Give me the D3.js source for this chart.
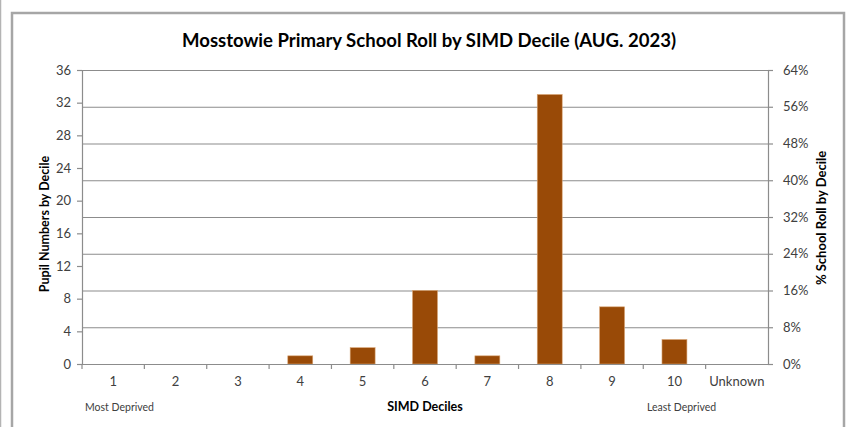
<!DOCTYPE html>
<html>
<head>
<meta charset="utf-8">
<script src="https://cdn.jsdelivr.net/npm/d3@7"></script>
<style>
  html, body { margin: 0; padding: 0; background: #ffffff; }
  svg { display: block; }
  text { font-family: Lato, "Open Sans", "Noto Sans", sans-serif; }
</style>
</head>
<body>
<svg id="chart" width="852" height="427"></svg>
<script>
// ---- data ----
const categories = ["1", "2", "3", "4", "5", "6", "7", "8", "9", "10", "Unknown"];
const pupils = [0, 0, 0, 1, 2, 9, 1, 33, 7, 3, 0];
const leftTicks = [0, 4, 8, 12, 16, 20, 24, 28, 32, 36];
const rightTicks = [0, 0.08, 0.16, 0.24, 0.32, 0.40, 0.48, 0.56, 0.64];
const titleText = "Mosstowie Primary School Roll by SIMD Decile (AUG. 2023)";
const leftTitle = "Pupil Numbers by Decile";
const rightTitle = "% School Roll by Decile";
const xTitle = "SIMD Deciles";
const lowNote = "Most Deprived";
const highNote = "Least Deprived";

// ---- layout ----
const svg = d3.select("#chart");
const plot = { left: 82, right: 768, top: 70, bottom: 364 };
const gridColor = "#8c8c8c";
const textColor = "#404040";

// outer frames
svg.append("line").attr("x1", 0.5).attr("x2", 0.5).attr("y1", 0).attr("y2", 427)
  .attr("stroke", "#b4b4b4").attr("stroke-width", 1.5);
svg.append("rect").attr("x", 12).attr("y", 13).attr("width", 832).attr("height", 430)
  .attr("fill", "none").attr("stroke", "#a6a6a6").attr("stroke-width", 2.5);

const x = d3.scaleBand().domain(categories).range([plot.left, plot.right]).padding(0);
const yL = d3.scaleLinear().domain([0, 36]).range([plot.bottom, plot.top]);
const yR = d3.scaleLinear().domain([0, 0.64]).range([plot.bottom, plot.top]);

// gridlines (follow right axis)
const grid = svg.append("g").attr("transform", `translate(${plot.left},0)`)
  .call(d3.axisRight(yR).tickValues(rightTicks).tickSize(plot.right - plot.left).tickFormat(""));
grid.select(".domain").remove();
grid.selectAll("line").attr("stroke", gridColor).attr("stroke-width", 1.2);

// bars
const bw = x.bandwidth() * 0.4;
svg.append("g").selectAll("rect").data(categories).join("rect")
  .attr("x", (d) => x(d) + x.bandwidth() / 2 - bw / 2)
  .attr("y", (d, i) => yL(pupils[i]))
  .attr("width", bw)
  .attr("height", (d, i) => yL(0) - yL(pupils[i]))
  .attr("fill", "#994a07")
  .attr("stroke", "#d9a574").attr("stroke-width", 0.6);

// left axis
const gL = svg.append("g").attr("transform", `translate(${plot.left},0)`)
  .call(d3.axisLeft(yL).tickValues(leftTicks).tickSize(5).tickPadding(6));
// right axis
const gR = svg.append("g").attr("transform", `translate(${plot.right},0)`)
  .call(d3.axisRight(yR).tickValues(rightTicks).tickSize(5).tickPadding(10)
    .tickFormat(d3.format(".0%")));
// x axis
const gX = svg.append("g").attr("transform", `translate(0,${plot.bottom})`)
  .call(d3.axisBottom(x).tickSize(0).tickPadding(13));
// boundary ticks for x axis
svg.append("g").selectAll("line").data(categories.slice(1)).join("line")
  .attr("x1", (d) => x(d)).attr("x2", (d) => x(d))
  .attr("y1", plot.bottom).attr("y2", plot.bottom + 5)
  .attr("stroke", gridColor).attr("stroke-width", 1.2);
svg.append("line").attr("x1", plot.left).attr("x2", plot.left)
  .attr("y1", plot.bottom).attr("y2", plot.bottom + 5)
  .attr("stroke", gridColor).attr("stroke-width", 1.2);

[gL, gR, gX].forEach((g) => {
  g.selectAll(".domain").attr("stroke", gridColor).attr("stroke-width", 1.2);
  g.selectAll(".tick line").attr("stroke", gridColor).attr("stroke-width", 1.2);
  g.selectAll("text").attr("fill", textColor).style("font-size", "13px")
    .style("font-family", "Lato, sans-serif");
});
gX.select(".domain").attr("d", `M${plot.left},0.5H${plot.right}`);

// title
svg.append("text").attr("x", 429).attr("y", 47).attr("text-anchor", "middle")
  .style("font-size", "18px").style("font-weight", "bold").attr("fill", "#000")
  .attr("textLength", 494).attr("lengthAdjust", "spacingAndGlyphs")
  .text(titleText);

// axis titles
svg.append("text").attr("transform", "translate(49,224) rotate(-90)")
  .attr("text-anchor", "middle").style("font-size", "12.5px").style("font-weight", "bold")
  .attr("fill", "#000").text(leftTitle);
svg.append("text").attr("transform", "translate(826,218) rotate(-90)")
  .attr("text-anchor", "middle").style("font-size", "13px").style("font-weight", "bold")
  .attr("fill", "#000").text(rightTitle);
svg.append("text").attr("x", 425).attr("y", 411).attr("text-anchor", "middle")
  .style("font-size", "12.5px").style("font-weight", "bold").attr("fill", "#000").text(xTitle);
svg.append("text").attr("x", 85).attr("y", 411)
  .style("font-size", "10.5px").attr("fill", textColor).text(lowNote);
svg.append("text").attr("x", 647).attr("y", 411)
  .style("font-size", "10.5px").attr("fill", textColor).text(highNote);
</script>
</body>
</html>
